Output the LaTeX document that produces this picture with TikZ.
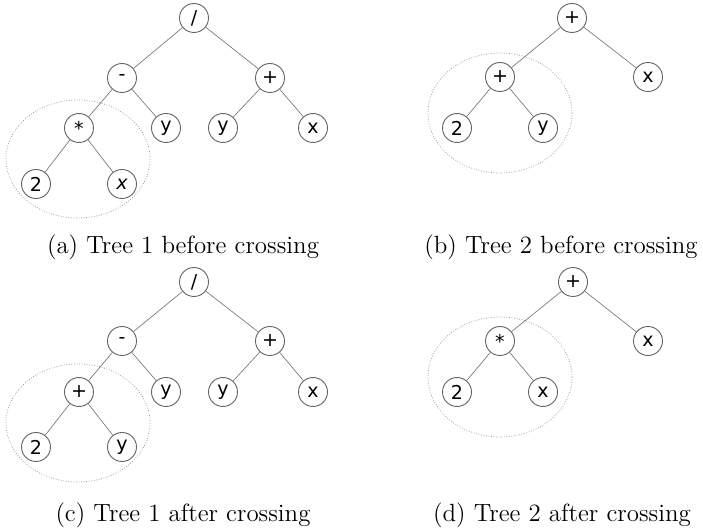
\documentclass[tikz,border=0pt]{standalone}
\usepackage{fontspec}
\newfontfamily\nodefont{DejaVu Sans}
\begin{document}
\begin{tikzpicture}[x=0.55pt,y=-0.55pt,
  tn/.style={circle,draw=black!60,line width=0.5pt,minimum size=29*0.55pt,inner sep=0pt,font=\nodefont\fontsize{10.5}{11}\selectfont,fill=white},
  tedge/.style={draw=black!55,line width=0.35pt},
  sel/.style={draw=black!45,densely dotted,line width=0.4pt},
  captext/.style={font=\fontsize{13.7}{16}\selectfont,anchor=center}]
\useasboundingbox (0,0) rectangle (703,530);
% ellipses
\draw[sel] (78,159) ellipse [x radius=72,y radius=59];
\draw[sel] (500,113) ellipse [x radius=72,y radius=60];
\draw[sel] (78,423) ellipse [x radius=72,y radius=59];
\draw[sel] (500,377) ellipse [x radius=72,y radius=60];
% Tree (a)
\node[tn] (a1) at (194,18) {/};
\node[tn] (a2) at (122,78) {-};
\node[tn] (a3) at (270,78) {+};
\node[tn] (a4) at (79,128) {*};
\node[tn] (a5) at (166,128) {y};
\node[tn] (a6) at (223,128) {y};
\node[tn] (a7) at (313,128) {x};
\node[tn] (a8) at (36,184) {2};
\node[tn] (a9) at (122,184) {\itshape x};
\draw[tedge] (a1)--(a2) (a1)--(a3) (a2)--(a4) (a2)--(a5) (a3)--(a6) (a3)--(a7) (a4)--(a8) (a4)--(a9);
\node[captext] (ca) at (183,247) {(a) Tree 1 before crossing};
% Tree (b)
\node[tn] (b1) at (572,18) {+};
\node[tn] (b2) at (500,77) {+};
\node[tn] (b3) at (648,77) {x};
\node[tn] (b4) at (457,128) {2};
\node[tn] (b5) at (543,128) {y};
\draw[tedge] (b1)--(b2) (b1)--(b3) (b2)--(b4) (b2)--(b5);
\node[captext] (cb) at (561,247) {(b) Tree 2 before crossing};
% Tree (c)
\node[tn] (c1) at (194,282) {/};
\node[tn] (c2) at (122,341) {-};
\node[tn] (c3) at (270,341) {+};
\node[tn] (c4) at (79,392) {+};
\node[tn] (c5) at (166,392) {y};
\node[tn] (c6) at (223,392) {y};
\node[tn] (c7) at (313,392) {x};
\node[tn] (c8) at (36,447) {2};
\node[tn] (c9) at (122,447) {y};
\draw[tedge] (c1)--(c2) (c1)--(c3) (c2)--(c4) (c2)--(c5) (c3)--(c6) (c3)--(c7) (c4)--(c8) (c4)--(c9);
\node[captext] (cc) at (183,515) {(c) Tree 1 after crossing};
% Tree (d)
\node[tn] (d1) at (573,282) {+};
\node[tn] (d2) at (500,341) {*};
\node[tn] (d3) at (648,341) {x};
\node[tn] (d4) at (457,392) {2};
\node[tn] (d5) at (543,392) {x};
\draw[tedge] (d1)--(d2) (d1)--(d3) (d2)--(d4) (d2)--(d5);
\node[captext] (cd) at (562,515) {(d) Tree 2 after crossing};
\end{tikzpicture}
\end{document}
